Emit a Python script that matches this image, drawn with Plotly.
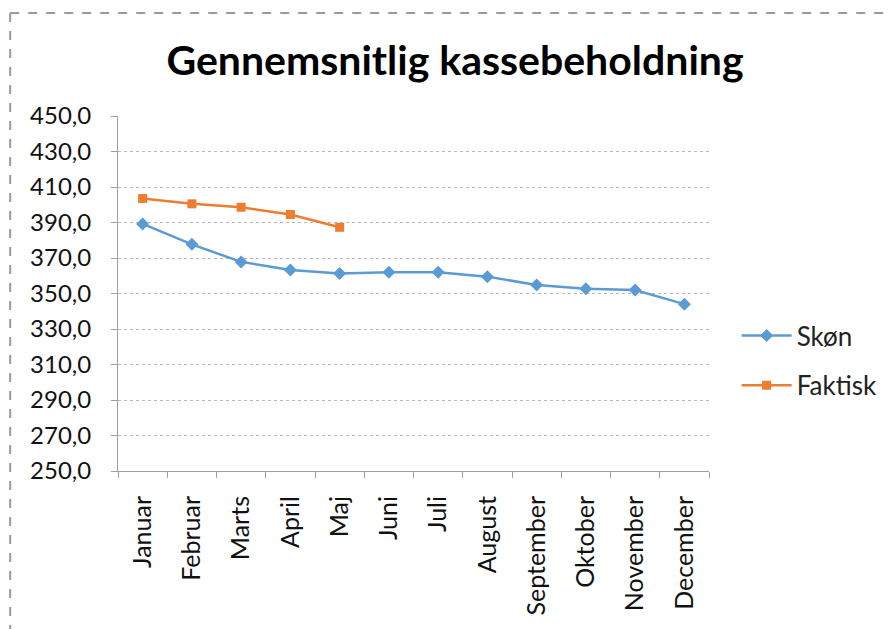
import plotly.graph_objects as go

months = ["Januar", "Februar", "Marts", "April", "Maj", "Juni", "Juli",
          "August", "September", "Oktober", "November", "December"]
skon = [389.2, 377.7, 367.8, 363.3, 361.2, 362.0, 362.0, 359.5, 354.8, 352.7, 352.0, 344.0]
faktisk_months = ["Januar", "Februar", "Marts", "April", "Maj"]
faktisk = [403.5, 400.5, 398.6, 394.5, 387.3]
y_ticks = [250, 270, 290, 310, 330, 350, 370, 390, 410, 430, 450]
y_ticktext = ["250,0", "270,0", "290,0", "310,0", "330,0", "350,0", "370,0",
              "390,0", "410,0", "430,0", "450,0"]

BLUE = "#5B9BD5"
ORANGE = "#ED7D31"
FONT = "Lato"

fig = go.Figure()
fig.add_trace(go.Scatter(x=months, y=skon, name="Skøn", mode="lines+markers",
                         legendgroup="a",
                         line=dict(color=BLUE, width=2.5),
                         marker=dict(symbol="diamond", size=10, color=BLUE)))
fig.add_trace(go.Scatter(x=faktisk_months, y=faktisk, name="Faktisk", mode="lines+markers",
                         legendgroup="b",
                         line=dict(color=ORANGE, width=2.5),
                         marker=dict(symbol="square", size=9, color=ORANGE)))

fig.update_layout(
    width=886, height=621,
    paper_bgcolor="white", plot_bgcolor="white",
    margin=dict(l=110, r=184, t=108, b=158),
    title=dict(text="<b>Gennemsnitlig kassebeholdning</b>", x=0.5045, xref="container",
               xanchor="center", y=0.916, yref="container", yanchor="middle",
               font=dict(family=FONT, size=41, color="black")),
    font=dict(family=FONT, color="black"),
    legend=dict(x=1.045, xanchor="left", y=0.4475, yanchor="top",
                font=dict(family=FONT, size=26, color="#222"),
                traceorder="grouped", tracegroupgap=13, itemwidth=50,
                bgcolor="rgba(0,0,0,0)"),
    showlegend=True,
)
fig.update_xaxes(type="category", categoryorder="array", categoryarray=months,
                 range=[-0.5, 11.5], tickangle=-90,
                 tickfont=dict(family=FONT, size=25, color="#111"),
                 showline=True, linecolor="#a0a0a0", linewidth=1,
                 ticks="outside", tickson="boundaries", ticklen=6, tickcolor="#a0a0a0",
                 showgrid=False, ticklabelstandoff=14)
fig.update_yaxes(range=[250, 450], tickvals=y_ticks, ticktext=y_ticktext,
                 tickfont=dict(family=FONT, size=24, color="#111"),
                 showline=True, linecolor="#a0a0a0", linewidth=1,
                 ticks="outside", ticklen=6, tickcolor="#a0a0a0",
                 showgrid=True, gridcolor="#b8b8b8", griddash="dot", gridwidth=1,
                 zeroline=False, ticklabelstandoff=15)

# chart border (top and left visible)
fig.add_shape(type="line", xref="paper", yref="paper",
              x0=(10 - 118) / 592, x1=(893 - 118) / 592,
              y0=(471 - 13) / 355, y1=(471 - 13) / 355,
              line=dict(color="#9a9a9a", width=2, dash="dash"))
fig.add_shape(type="line", xref="paper", yref="paper",
              x0=(10 - 118) / 592, x1=(10 - 118) / 592,
              y0=(471 - 13) / 355, y1=(471 - 640) / 355,
              line=dict(color="#9a9a9a", width=2, dash="dash"))

fig.write_html("out.html")
